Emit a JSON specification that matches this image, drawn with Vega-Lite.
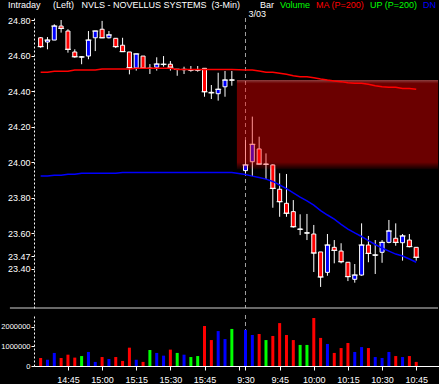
{
"$schema": "https://vega.github.io/schema/vega-lite/v6.json",
"background": "black",
"padding": 0,
"spacing": 5,
"config": {"view": {"stroke": null}, "font": "Liberation Sans",
  "axis": {"labelColor": "white", "domainColor": "white", "tickColor": "white", "grid": false, "labelFont": "Liberation Sans", "labelFontSize": 9, "labelOverlap": false}},
"datasets": {
"bars": [
{"i":0,"t":"14:33","o":24.701,"h":24.705,"l":24.645,"c":24.651,"v":410000,"ma":24.507,"dn":23.923},
{"i":1,"t":"14:36","o":24.677,"h":24.705,"l":24.636,"c":24.688,"v":320000,"ma":24.507,"dn":23.923},
{"i":2,"t":"14:39","o":24.688,"h":24.777,"l":24.688,"c":24.767,"v":670000,"ma":24.512,"dn":23.927},
{"i":3,"t":"14:42","o":24.767,"h":24.801,"l":24.730,"c":24.754,"v":410000,"ma":24.512,"dn":23.927},
{"i":4,"t":"14:45","o":24.739,"h":24.749,"l":24.617,"c":24.636,"v":580000,"ma":24.512,"dn":23.932},
{"i":5,"t":"14:48","o":24.621,"h":24.636,"l":24.589,"c":24.594,"v":430000,"ma":24.519,"dn":23.932},
{"i":6,"t":"14:51","o":24.593,"h":24.598,"l":24.552,"c":24.593,"v":510000,"ma":24.519,"dn":23.938},
{"i":7,"t":"14:54","o":24.598,"h":24.739,"l":24.580,"c":24.688,"v":720000,"ma":24.519,"dn":23.938},
{"i":8,"t":"14:57","o":24.701,"h":24.739,"l":24.626,"c":24.739,"v":210000,"ma":24.519,"dn":23.938},
{"i":9,"t":"15:00","o":24.749,"h":24.796,"l":24.701,"c":24.701,"v":460000,"ma":24.525,"dn":23.938},
{"i":10,"t":"15:03","o":24.701,"h":24.739,"l":24.697,"c":24.717,"v":360000,"ma":24.525,"dn":23.938},
{"i":11,"t":"15:06","o":24.698,"h":24.698,"l":24.643,"c":24.651,"v":460000,"ma":24.525,"dn":23.938},
{"i":12,"t":"15:09","o":24.659,"h":24.701,"l":24.623,"c":24.623,"v":260000,"ma":24.525,"dn":23.943},
{"i":13,"t":"15:12","o":24.621,"h":24.621,"l":24.495,"c":24.532,"v":940000,"ma":24.525,"dn":23.943},
{"i":14,"t":"15:15","o":24.531,"h":24.610,"l":24.516,"c":24.610,"v":320000,"ma":24.529,"dn":23.943},
{"i":15,"t":"15:18","o":24.598,"h":24.598,"l":24.531,"c":24.531,"v":210000,"ma":24.529,"dn":23.943},
{"i":16,"t":"15:21","o":24.529,"h":24.553,"l":24.497,"c":24.529,"v":820000,"ma":24.529,"dn":23.943},
{"i":17,"t":"15:24","o":24.535,"h":24.591,"l":24.516,"c":24.553,"v":670000,"ma":24.529,"dn":23.943},
{"i":18,"t":"15:27","o":24.550,"h":24.598,"l":24.538,"c":24.552,"v":530000,"ma":24.529,"dn":23.943},
{"i":19,"t":"15:30","o":24.552,"h":24.570,"l":24.516,"c":24.535,"v":840000,"ma":24.529,"dn":23.943},
{"i":20,"t":"15:33","o":24.523,"h":24.523,"l":24.487,"c":24.523,"v":670000,"ma":24.523,"dn":23.943},
{"i":21,"t":"15:36","o":24.521,"h":24.538,"l":24.497,"c":24.523,"v":580000,"ma":24.523,"dn":23.943},
{"i":22,"t":"15:39","o":24.519,"h":24.542,"l":24.510,"c":24.519,"v":460000,"ma":24.523,"dn":23.943},
{"i":23,"t":"15:42","o":24.519,"h":24.542,"l":24.510,"c":24.519,"v":510000,"ma":24.523,"dn":23.943},
{"i":24,"t":"15:45","o":24.529,"h":24.529,"l":24.369,"c":24.397,"v":2050000,"ma":24.523,"dn":23.943},
{"i":25,"t":"15:48","o":24.394,"h":24.435,"l":24.356,"c":24.391,"v":1330000,"ma":24.523,"dn":23.943},
{"i":26,"t":"15:51","o":24.386,"h":24.504,"l":24.347,"c":24.411,"v":1790000,"ma":24.523,"dn":23.943},
{"i":27,"t":"15:54","o":24.425,"h":24.514,"l":24.369,"c":24.463,"v":1380000,"ma":24.523,"dn":23.943},
{"i":28,"t":"15:57","o":24.463,"h":24.514,"l":24.431,"c":24.463,"v":1900000,"ma":24.523,"dn":23.943},
{"i":30,"t":"9:30","o":23.953,"h":24.125,"l":23.938,"c":23.985,"v":1850000,"ma":24.519,"dn":23.931},
{"i":31,"t":"9:33","o":24.003,"h":24.257,"l":23.923,"c":24.101,"v":1590000,"ma":24.519,"dn":23.922},
{"i":32,"t":"9:36","o":24.075,"h":24.144,"l":23.990,"c":23.990,"v":1640000,"ma":24.514,"dn":23.914},
{"i":33,"t":"9:39","o":23.989,"h":24.050,"l":23.906,"c":23.989,"v":1330000,"ma":24.507,"dn":23.905},
{"i":34,"t":"9:42","o":23.985,"h":23.989,"l":23.744,"c":23.853,"v":1540000,"ma":24.507,"dn":23.892},
{"i":35,"t":"9:45","o":23.848,"h":23.938,"l":23.693,"c":23.778,"v":2200000,"ma":24.501,"dn":23.872},
{"i":36,"t":"9:48","o":23.769,"h":23.934,"l":23.693,"c":23.713,"v":1590000,"ma":24.495,"dn":23.852},
{"i":37,"t":"9:51","o":23.722,"h":23.787,"l":23.632,"c":23.637,"v":1330000,"ma":24.487,"dn":23.827},
{"i":38,"t":"9:54","o":23.623,"h":23.707,"l":23.590,"c":23.623,"v":1080000,"ma":24.482,"dn":23.804},
{"i":39,"t":"9:57","o":23.602,"h":23.709,"l":23.562,"c":23.602,"v":1080000,"ma":24.482,"dn":23.783},
{"i":40,"t":"10:00","o":23.596,"h":23.647,"l":23.382,"c":23.489,"v":2460000,"ma":24.476,"dn":23.759},
{"i":41,"t":"10:03","o":23.495,"h":23.495,"l":23.298,"c":23.354,"v":1440000,"ma":24.469,"dn":23.728},
{"i":42,"t":"10:06","o":23.380,"h":23.596,"l":23.361,"c":23.534,"v":1130000,"ma":24.463,"dn":23.703},
{"i":43,"t":"10:09","o":23.521,"h":23.562,"l":23.431,"c":23.504,"v":670000,"ma":24.458,"dn":23.680},
{"i":44,"t":"10:12","o":23.500,"h":23.544,"l":23.431,"c":23.440,"v":920000,"ma":24.454,"dn":23.650},
{"i":45,"t":"10:15","o":23.437,"h":23.437,"l":23.331,"c":23.356,"v":1180000,"ma":24.448,"dn":23.624},
{"i":46,"t":"10:18","o":23.341,"h":23.427,"l":23.322,"c":23.365,"v":720000,"ma":24.445,"dn":23.602},
{"i":47,"t":"10:21","o":23.365,"h":23.656,"l":23.361,"c":23.534,"v":970000,"ma":24.445,"dn":23.582},
{"i":48,"t":"10:24","o":23.534,"h":23.585,"l":23.437,"c":23.487,"v":920000,"ma":24.439,"dn":23.559},
{"i":49,"t":"10:27","o":23.476,"h":23.562,"l":23.371,"c":23.478,"v":460000,"ma":24.431,"dn":23.537},
{"i":50,"t":"10:30","o":23.493,"h":23.562,"l":23.434,"c":23.549,"v":410000,"ma":24.425,"dn":23.517},
{"i":51,"t":"10:33","o":23.549,"h":23.675,"l":23.544,"c":23.613,"v":720000,"ma":24.422,"dn":23.500},
{"i":52,"t":"10:36","o":23.572,"h":23.656,"l":23.530,"c":23.549,"v":510000,"ma":24.422,"dn":23.483},
{"i":53,"t":"10:39","o":23.547,"h":23.596,"l":23.446,"c":23.585,"v":460000,"ma":24.416,"dn":23.472},
{"i":54,"t":"10:42","o":23.562,"h":23.596,"l":23.521,"c":23.525,"v":510000,"ma":24.416,"dn":23.455},
{"i":55,"t":"10:45","o":23.521,"h":23.521,"l":23.446,"c":23.465,"v":210000,"ma":24.411,"dn":23.437}
],
"days": [{"date": "3/03", "i": 30}],
"gap": [{"from": 28.74, "to": 58.19, "top": 24.463, "bottom": 23.96}]
},
"vconcat": [
{
 "width": 409, "height": 290,
 "title": {"text": "Intraday\u00a0\u00a0\u00a0\u00a0\u00a0(Left)\u00a0\u00a0\u00a0NVLS - NOVELLUS SYSTEMS\u00a0\u00a0(3-Min)", "anchor": "start", "frame": "group", "dx": -26, "offset": 0, "color": "white", "fontSize": 9, "fontWeight": "normal", "font": "Liberation Sans"},
 "encoding": {"x": {"field": "i", "type": "quantitative", "scale": {"domain": [-0.24, 58.19], "nice": false, "zero": false}, "axis": null}},
 "layer": [
  {"data": {"name": "days"}, "mark": {"type": "rule", "color": "#a0a0a0", "strokeDash": [4, 3], "strokeWidth": 1}, "encoding": {}},
  {"data": {"name": "bars"}, "mark": {"type": "rule", "color": "white", "strokeWidth": 1},
   "encoding": {"y": {"field": "l", "type": "quantitative", "title": null, "scale": {"domain": [23.1794, 24.8123], "nice": false, "zero": false},
      "axis": {"title": null, "values": [24.8, 24.6, 24.4, 24.2, 24.0, 23.8, 23.6, 23.47, 23.4], "format": ".2f", "domainDash": [2, 2], "tickSize": 3, "labelPadding": 1, "minExtent": 30, "maxExtent": 30, "labelOverlap": false, "labelFlush": false}},
     "y2": {"field": "h"}}},
  {"data": {"name": "bars"}, "mark": {"type": "bar", "size": 4, "stroke": "white", "strokeWidth": 1},
   "encoding": {"y": {"field": "o", "type": "quantitative", "title": null, "axis": {"title": null, "values": [24.8, 24.6, 24.4, 24.2, 24.0, 23.8, 23.6, 23.47, 23.4], "format": ".2f", "domainDash": [2, 2], "tickSize": 3, "labelPadding": 1, "minExtent": 30, "maxExtent": 30, "labelOverlap": false, "labelFlush": false}}, "y2": {"field": "c"},
     "fill": {"condition": {"test": "datum.c > datum.o", "value": "#0000ff"}, "value": "#ff0000"}}},
  {"data": {"name": "bars"}, "mark": {"type": "tick", "orient": "horizontal", "color": "white", "size": 6, "thickness": 1, "opacity": 1},
   "encoding": {"y": {"field": "c", "type": "quantitative", "title": null, "axis": {"title": null, "values": [24.8, 24.6, 24.4, 24.2, 24.0, 23.8, 23.6, 23.47, 23.4], "format": ".2f", "domainDash": [2, 2], "tickSize": 3, "labelPadding": 1, "minExtent": 30, "maxExtent": 30, "labelOverlap": false, "labelFlush": false}}}},
  {"data": {"name": "gap"}, "mark": {"type": "rect", "color": {"gradient": "linear", "x1": 0, "y1": 0, "x2": 0, "y2": 1, "stops": [{"offset": 0, "color": "rgba(255,120,120,0.55)"}, {"offset": 0.04, "color": "rgba(255,0,0,0.42)"}, {"offset": 0.92, "color": "rgba(255,0,0,0.42)"}, {"offset": 1, "color": "rgba(255,0,0,0.05)"}]}},
   "encoding": {"x": {"field": "from", "type": "quantitative", "axis": null}, "x2": {"field": "to"}, "y": {"field": "top", "type": "quantitative", "title": null, "axis": {"title": null, "values": [24.8, 24.6, 24.4, 24.2, 24.0, 23.8, 23.6, 23.47, 23.4], "format": ".2f", "domainDash": [2, 2], "tickSize": 3, "labelPadding": 1, "minExtent": 30, "maxExtent": 30, "labelOverlap": false, "labelFlush": false}}, "y2": {"field": "bottom"}}},
  {"data": {"name": "bars"}, "transform": [{"fold": ["ma", "dn"], "as": ["series", "value"]}],
   "mark": {"type": "line", "strokeWidth": 1.5},
   "encoding": {"y": {"field": "value", "type": "quantitative", "title": null, "axis": {"title": null, "values": [24.8, 24.6, 24.4, 24.2, 24.0, 23.8, 23.6, 23.47, 23.4], "format": ".2f", "domainDash": [2, 2], "tickSize": 3, "labelPadding": 1, "minExtent": 30, "maxExtent": 30, "labelOverlap": false, "labelFlush": false}},
     "color": {"field": "series", "type": "nominal",
       "scale": {"domain": ["Bar", "Volume", "ma", "up", "dn"], "range": ["#ffffff", "#00ff00", "#ff0000", "#00ff00", "#0000ff"]},
       "legend": {"orient": "none", "legendX": 228, "legendY": -18, "direction": "horizontal", "title": null, "symbolType": "circle", "symbolSize": 0.01, "symbolStrokeWidth": 0, "symbolOpacity": 0, "labelOffset": -11, "columnPadding": 5, "padding": 0, "labelFontSize": 9, "labelFont": "Liberation Sans",
         "labelExpr": "datum.label == 'ma' ? 'MA (P=200)' : datum.label == 'up' ? 'UP (P=200)' : datum.label == 'dn' ? 'DN' : datum.label",
         "encode": {"symbols": {"update": {"size": {"value": 0}, "strokeWidth": {"value": 0}}}, "labels": {"update": {"fill": {"signal": "datum.value == 'Bar' ? '#ffffff' : datum.value == 'ma' ? '#ff0000' : datum.value == 'dn' ? '#0000ff' : '#00ff00'"}}}}}}}},
  {"data": {"name": "days"}, "mark": {"type": "text", "color": "white", "align": "left", "baseline": "middle", "dx": 3, "fontSize": 9, "font": "Liberation Sans"},
   "encoding": {"y": {"datum": 24.835, "type": "quantitative", "title": null, "axis": {"title": null, "values": [24.8, 24.6, 24.4, 24.2, 24.0, 23.8, 23.6, 23.47, 23.4], "format": ".2f", "domainDash": [2, 2], "tickSize": 3, "labelPadding": 1, "minExtent": 30, "maxExtent": 30, "labelOverlap": false, "labelFlush": false}}, "text": {"field": "date"}}},
  {"data": {"name": "days"}, "mark": {"type": "rule", "color": "#d0d0d0", "strokeWidth": 1},
   "encoding": {"x": {"datum": -4.5, "type": "quantitative", "axis": null}, "x2": {"datum": 58.19}, "y": {"datum": 23.1794, "type": "quantitative", "title": null, "axis": {"title": null, "values": [24.8, 24.6, 24.4, 24.2, 24.0, 23.8, 23.6, 23.47, 23.4], "format": ".2f", "domainDash": [2, 2], "tickSize": 3, "labelPadding": 1, "minExtent": 30, "maxExtent": 30, "labelOverlap": false, "labelFlush": false}}}}
 ]
},
{
 "width": 409, "height": 51,
 "encoding": {"x": {"field": "i", "type": "quantitative", "scale": {"domain": [-0.24, 58.19], "nice": false, "zero": false},
   "axis": {"title": null, "values": [4, 9, 14, 19, 24, 29, 30, 35, 40, 45, 50, 55], "tickSize": 4, "labelPadding": 5, "labelOverlap": false, "labelFlush": false, "labelFontSize": 9,
     "labelExpr": "datum.value == 4 ? '14:45' : datum.value == 9 ? '15:00' : datum.value == 14 ? '15:15' : datum.value == 19 ? '15:30' : datum.value == 24 ? '15:45' : datum.value == 30 ? '9:30' : datum.value == 35 ? '9:45' : datum.value == 40 ? '10:00' : datum.value == 45 ? '10:15' : datum.value == 50 ? '10:30' : datum.value == 55 ? '10:45' : ''"}}},
 "layer": [
  {"data": {"name": "days"}, "mark": {"type": "rule", "color": "#a0a0a0", "strokeDash": [4, 3], "strokeWidth": 1}, "encoding": {}},
  {"data": {"name": "bars"}, "mark": {"type": "bar", "size": 3},
   "encoding": {"y": {"field": "v", "type": "quantitative", "scale": {"domain": [0, 2615000], "nice": false},
      "axis": {"title": null, "values": [0, 1000000, 2000000], "format": "d", "labelFontSize": 7.5, "domainDash": [2, 2], "tickSize": 3, "labelPadding": 1, "minExtent": 30, "maxExtent": 30, "labelFlush": false}},
     "fill": {"condition": [{"test": "datum.c > datum.o", "value": "#0000ff"}, {"test": "datum.c < datum.o", "value": "#ff0000"}], "value": "#00ff00"}}}
 ]
}
]
}
